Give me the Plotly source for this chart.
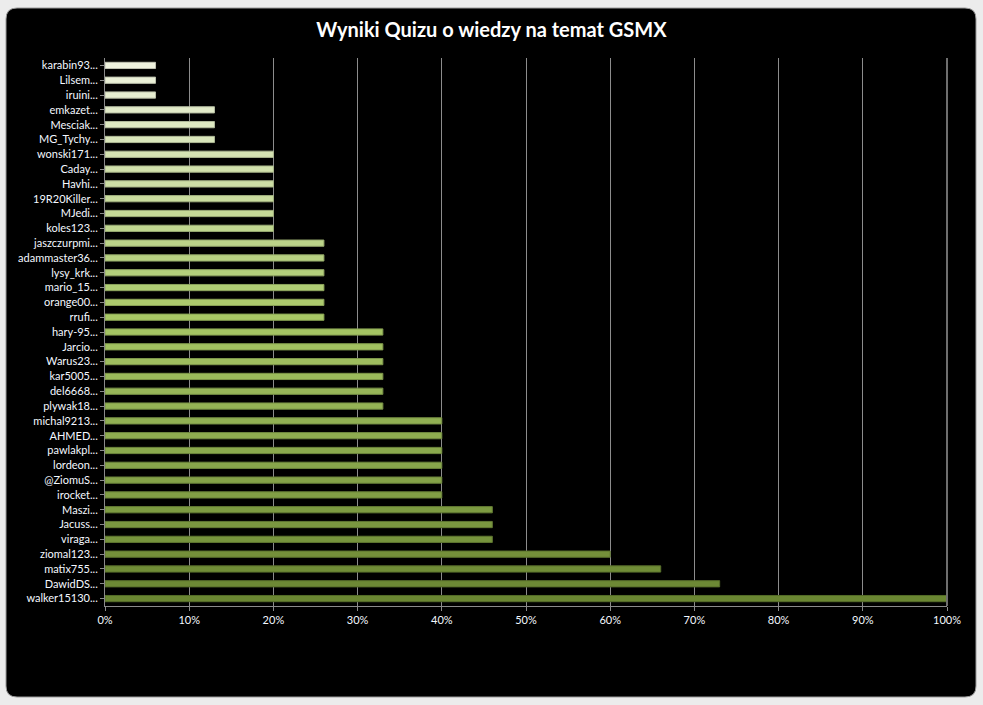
import plotly.graph_objects as go

# ---- data (top to bottom as in the chart) ----
names = [
    "karabin93...", "Lilsem...", "iruini...", "emkazet...", "Mesciak...", "MG_Tychy...",
    "wonski171...", "Caday...", "Havhi...", "19R20Killer...", "MJedi...", "koles123...",
    "jaszczurpmi...", "adammaster36...", "lysy_krk...", "mario_15...", "orange00...", "rrufi...",
    "hary-95...", "Jarcio...", "Warus23...", "kar5005...", "del6668...", "plywak18...",
    "michal9213...", "AHMED...", "pawlakpl...", "lordeon...", "@ZiomuS...", "irocket...",
    "Maszi...", "Jacuss...", "viraga...", "ziomal123...", "matix755...", "DawidDS...", "walker15130...",
]
scores = [
    0.06, 0.06, 0.06, 0.13, 0.13, 0.13,
    0.20, 0.20, 0.20, 0.20, 0.20, 0.20,
    0.26, 0.26, 0.26, 0.26, 0.26, 0.26,
    0.33, 0.33, 0.33, 0.33, 0.33, 0.33,
    0.40, 0.40, 0.40, 0.40, 0.40, 0.40,
    0.46, 0.46, 0.46, 0.60, 0.66, 0.73, 1.00,
]
x_ticks = [0, 0.1, 0.2, 0.3, 0.4, 0.5, 0.6, 0.7, 0.8, 0.9, 1.0]
title_text = "Wyniki Quizu o wiedzy na temat GSMX"

# ---- styling helpers ----
W, H = 983, 705
ML, MR, MT, MB = 105, 36, 58, 99
PW, PH = W - ML - MR, H - MT - MB


def px(x):
    return (x - ML) / PW


def py(y):
    return (H - MB - y) / PH


def lerp(c1, c2, t):
    return tuple(round(a + (b - a) * t) for a, b in zip(c1, c2))


stops = [(238, 242, 222), (168, 200, 102), (106, 134, 50)]
n = len(names)
fill, edge = [], []
for i in range(n):
    t = i / (n - 1)
    if t < 0.47:
        c = lerp(stops[0], stops[1], t / 0.47)
    else:
        c = lerp(stops[1], stops[2], (t - 0.47) / 0.53)
    fill.append("rgb(%d,%d,%d)" % c)
    d = tuple(int(v * 0.8) for v in c)
    edge.append("rgb(%d,%d,%d)" % d)

fig = go.Figure(go.Bar(
    x=scores, y=names, orientation="h",
    marker=dict(color=fill, line=dict(color=edge, width=1)),
    width=0.42,
    hoverinfo="x+y",
))

# rounded black chart panel
x0, x1, y0, y1, r = 6, 976, 8, 697, 11
path = (
    f"M {px(x0 + r)} {py(y0)} L {px(x1 - r)} {py(y0)} "
    f"Q {px(x1)} {py(y0)} {px(x1)} {py(y0 + r)} "
    f"L {px(x1)} {py(y1 - r)} Q {px(x1)} {py(y1)} {px(x1 - r)} {py(y1)} "
    f"L {px(x0 + r)} {py(y1)} Q {px(x0)} {py(y1)} {px(x0)} {py(y1 - r)} "
    f"L {px(x0)} {py(y0 + r)} Q {px(x0)} {py(y0)} {px(x0 + r)} {py(y0)} Z"
)
shapes = [
    dict(type="path", xref="paper", yref="paper", path=path,
         fillcolor="black", line=dict(color="#9a9a9a", width=1), layer="below"),
    # right light edge of the 3D back wall
    dict(type="line", xref="paper", yref="paper", x0=1.0, x1=1.0, y0=0, y1=1,
         line=dict(color="#6e6e6e", width=2), layer="above"),
]

fig.update_layout(
    width=W, height=H,
    margin=dict(l=ML, r=MR, t=MT, b=MB, autoexpand=False),
    paper_bgcolor="#ececec",
    plot_bgcolor="#3e3e3e",
    font=dict(family="Lato, Calibri, sans-serif", size=11, color="#f4f8ff"),
    title=dict(text=f"<b>{title_text}</b>", x=0.5, xref="container", y=1 - 30 / H,
               yanchor="middle", font=dict(size=20, color="white", family="Lato, Calibri, sans-serif")),
    showlegend=False,
    bargap=0.58,
    shapes=shapes,
)
fig.update_xaxes(
    range=[0, 1.0], tickvals=x_ticks, tickformat=".0%",
    showgrid=True, gridcolor="#8c8c8c", gridwidth=1,
    showline=True, linecolor="#8a8a8a", linewidth=1,
    ticks="outside", ticklen=4, tickcolor="#8a8a8a",
    zeroline=False, fixedrange=True, automargin=False,
    tickfont=dict(size=11, color="#f4f8ff"),
)
fig.update_yaxes(
    categoryorder="array", categoryarray=names, autorange="reversed",
    showline=True, linecolor="#8a8a8a", linewidth=1,
    ticks="outside", ticklen=4, tickcolor="#8a8a8a",
    showgrid=False, fixedrange=True, automargin=False,
    tickfont=dict(size=11, color="#f4f8ff"),
)

fig.write_html(
    "out.html",
    config={"displayModeBar": False},
    post_script="document.body.style.margin='0';document.body.style.overflow='hidden';",
)
